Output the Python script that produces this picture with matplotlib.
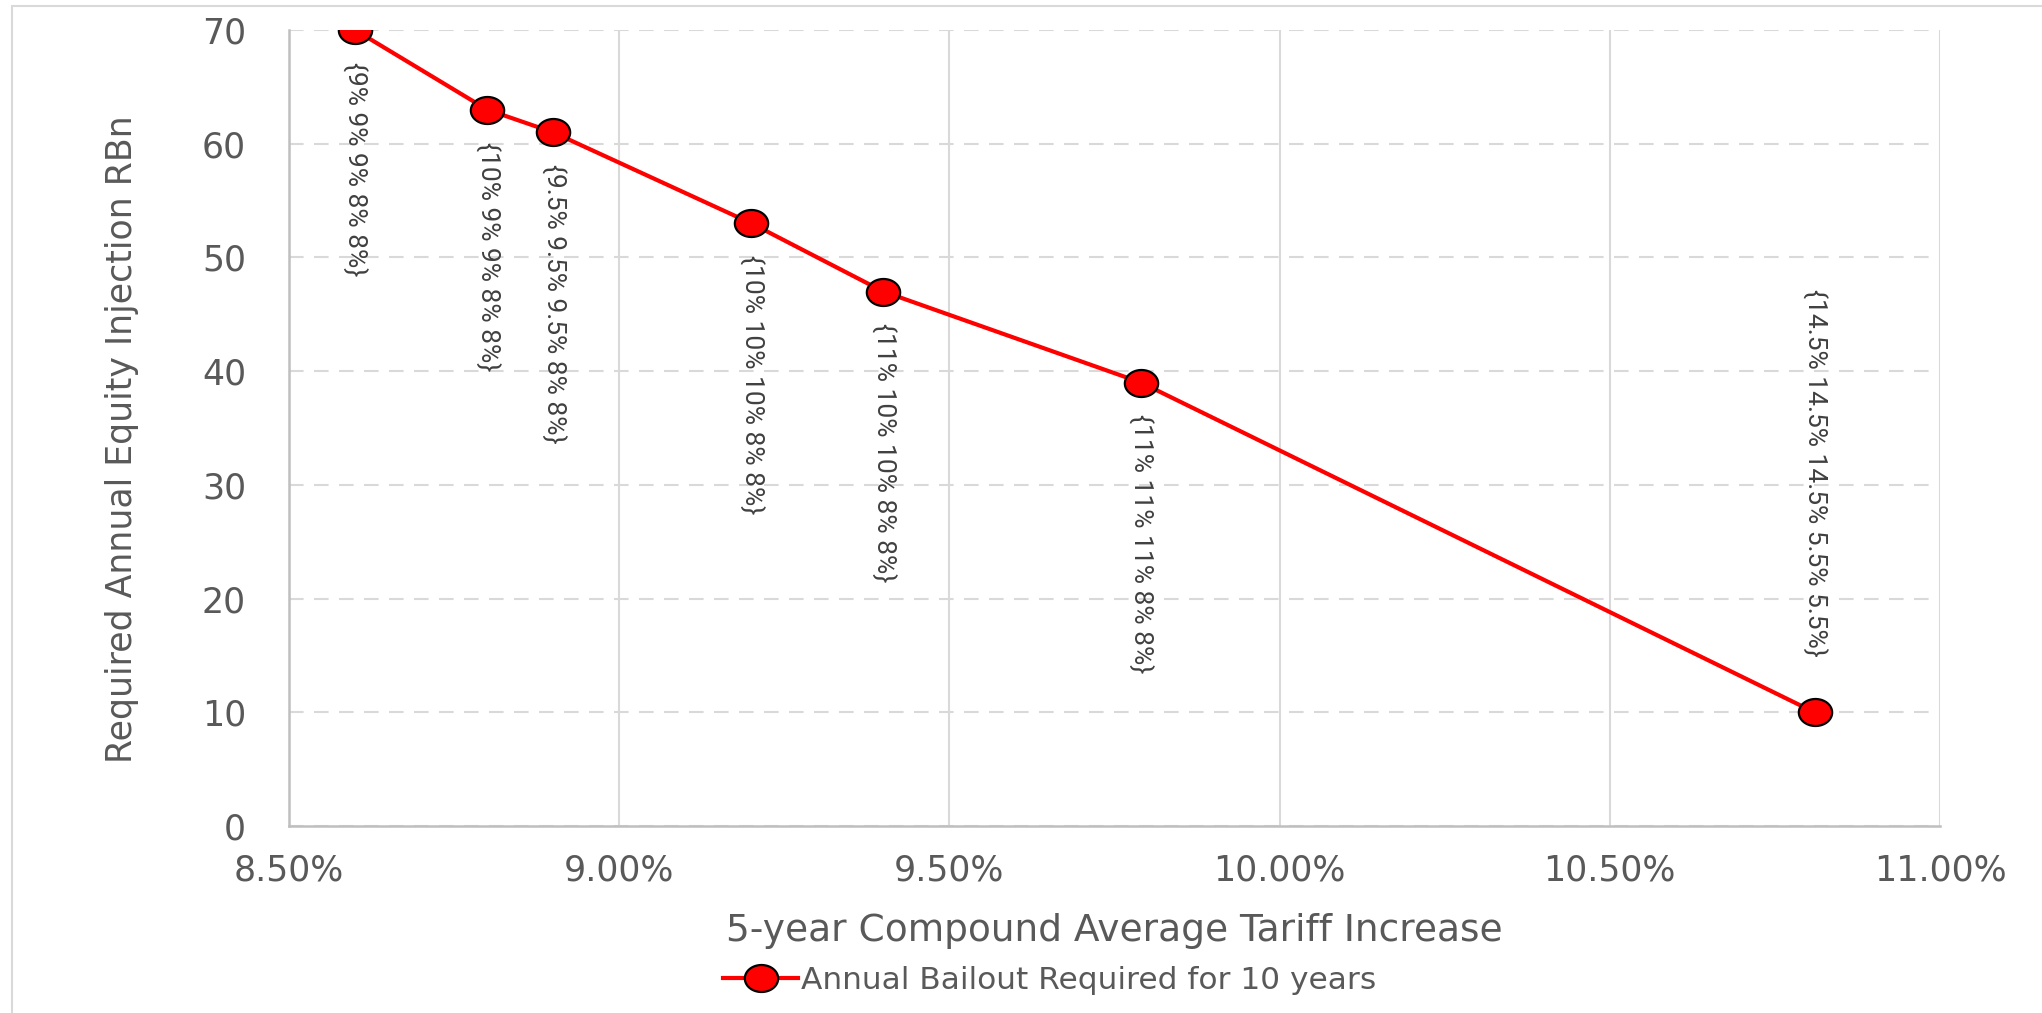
import numpy as np
import matplotlib
matplotlib.use("Agg")
import matplotlib.pyplot as plt
from matplotlib.path import Path
from matplotlib.patches import Rectangle
from matplotlib.ticker import PercentFormatter, MultipleLocator

# data
tariff = [8.6, 8.8, 8.9, 9.2, 9.4, 9.79, 10.81]
bailout = [70, 63, 61, 53, 47, 39, 10]
scenarios = ["{9% 9% 9% 8% 8%}", "{10% 9% 9% 8% 8%}", "{9.5% 9.5% 9.5% 8% 8%}",
             "{10% 10% 10% 8% 8%}", "{11% 10% 10% 8% 8%}", "{11% 11% 11% 8% 8%}",
             "{14.5% 14.5% 14.5% 5.5% 5.5%}"]
series_name = "Annual Bailout Required for 10 years"

grey_txt = "#595959"
grid_col = "#d9d9d9"

fig = plt.figure(figsize=(20.42, 10.13), dpi=100)
ax = fig.add_axes([289/2042, 1 - 826/1013, (1940-289)/2042, (826-30)/1013])

# slightly flattened circle, the reference markers are wider than tall
t = np.linspace(0, 2*np.pi, 73)
oval = Path(np.column_stack([np.cos(t), 0.81*np.sin(t)]), closed=True)

ax.plot(tariff, bailout, color="#ff0000", lw=3, marker=oval, ms=24,
        mfc="#ff0000", mec="black", mew=1.6, label=series_name, zorder=5)

for i, (x, y, s) in enumerate(zip(tariff, bailout, scenarios)):
    if i == len(tariff) - 1:
        ax.annotate(s, (x, y), xytext=(0, 40), textcoords="offset points",
                    rotation=-90, ha="center", va="bottom", fontsize=19,
                    family="Roboto", color="#404040")
    else:
        ax.annotate(s, (x, y), xytext=(0, -23), textcoords="offset points",
                    rotation=-90, ha="center", va="top", fontsize=19,
                    family="Roboto", color="#404040")

ax.set_xlim(8.5, 11.0)
ax.set_ylim(0, 70)
ax.xaxis.set_major_locator(MultipleLocator(0.5))
ax.yaxis.set_major_locator(MultipleLocator(10))
ax.xaxis.set_major_formatter(PercentFormatter(xmax=100, decimals=2))

ax.grid(axis="x", color=grid_col, lw=1.5, ls="-")
ax.grid(axis="y", color=grid_col, lw=1.5, ls=(0, (7, 5)))
ax.set_axisbelow(True)

for side in ("top", "right"):
    ax.spines[side].set_visible(False)
for side in ("left", "bottom"):
    ax.spines[side].set_color("#bfbfbf")
    ax.spines[side].set_linewidth(1.8)

ax.tick_params(axis="both", length=0, labelsize=25, labelcolor=grey_txt)
ax.tick_params(axis="y", pad=31)
ax.tick_params(axis="x", pad=20)

ax.set_xlabel("5-year Compound Average Tariff Increase", fontsize=27,
              color=grey_txt, va="center")
ax.xaxis.set_label_coords(0.5, -0.132)
ax.set_ylabel("Required Annual Equity Injection RBn", fontsize=25,
              color=grey_txt, va="center")
ax.yaxis.set_label_coords(-0.101, 0.486)

fig.legend(loc="center", bbox_to_anchor=(1050/2042, 1 - 980/1013),
           frameon=False, fontsize=22.5, labelcolor=grey_txt,
           handlelength=2.4, handletextpad=0.1, borderpad=0)

# thin frame around the chart area, as in the source
fig.patches.append(Rectangle((12/2042, -0.05), 1.2, 1 - 6/1013 + 0.05,
                             transform=fig.transFigure, fill=False,
                             ec=grid_col, lw=1.5))

fig.savefig("out.png", dpi=100)
